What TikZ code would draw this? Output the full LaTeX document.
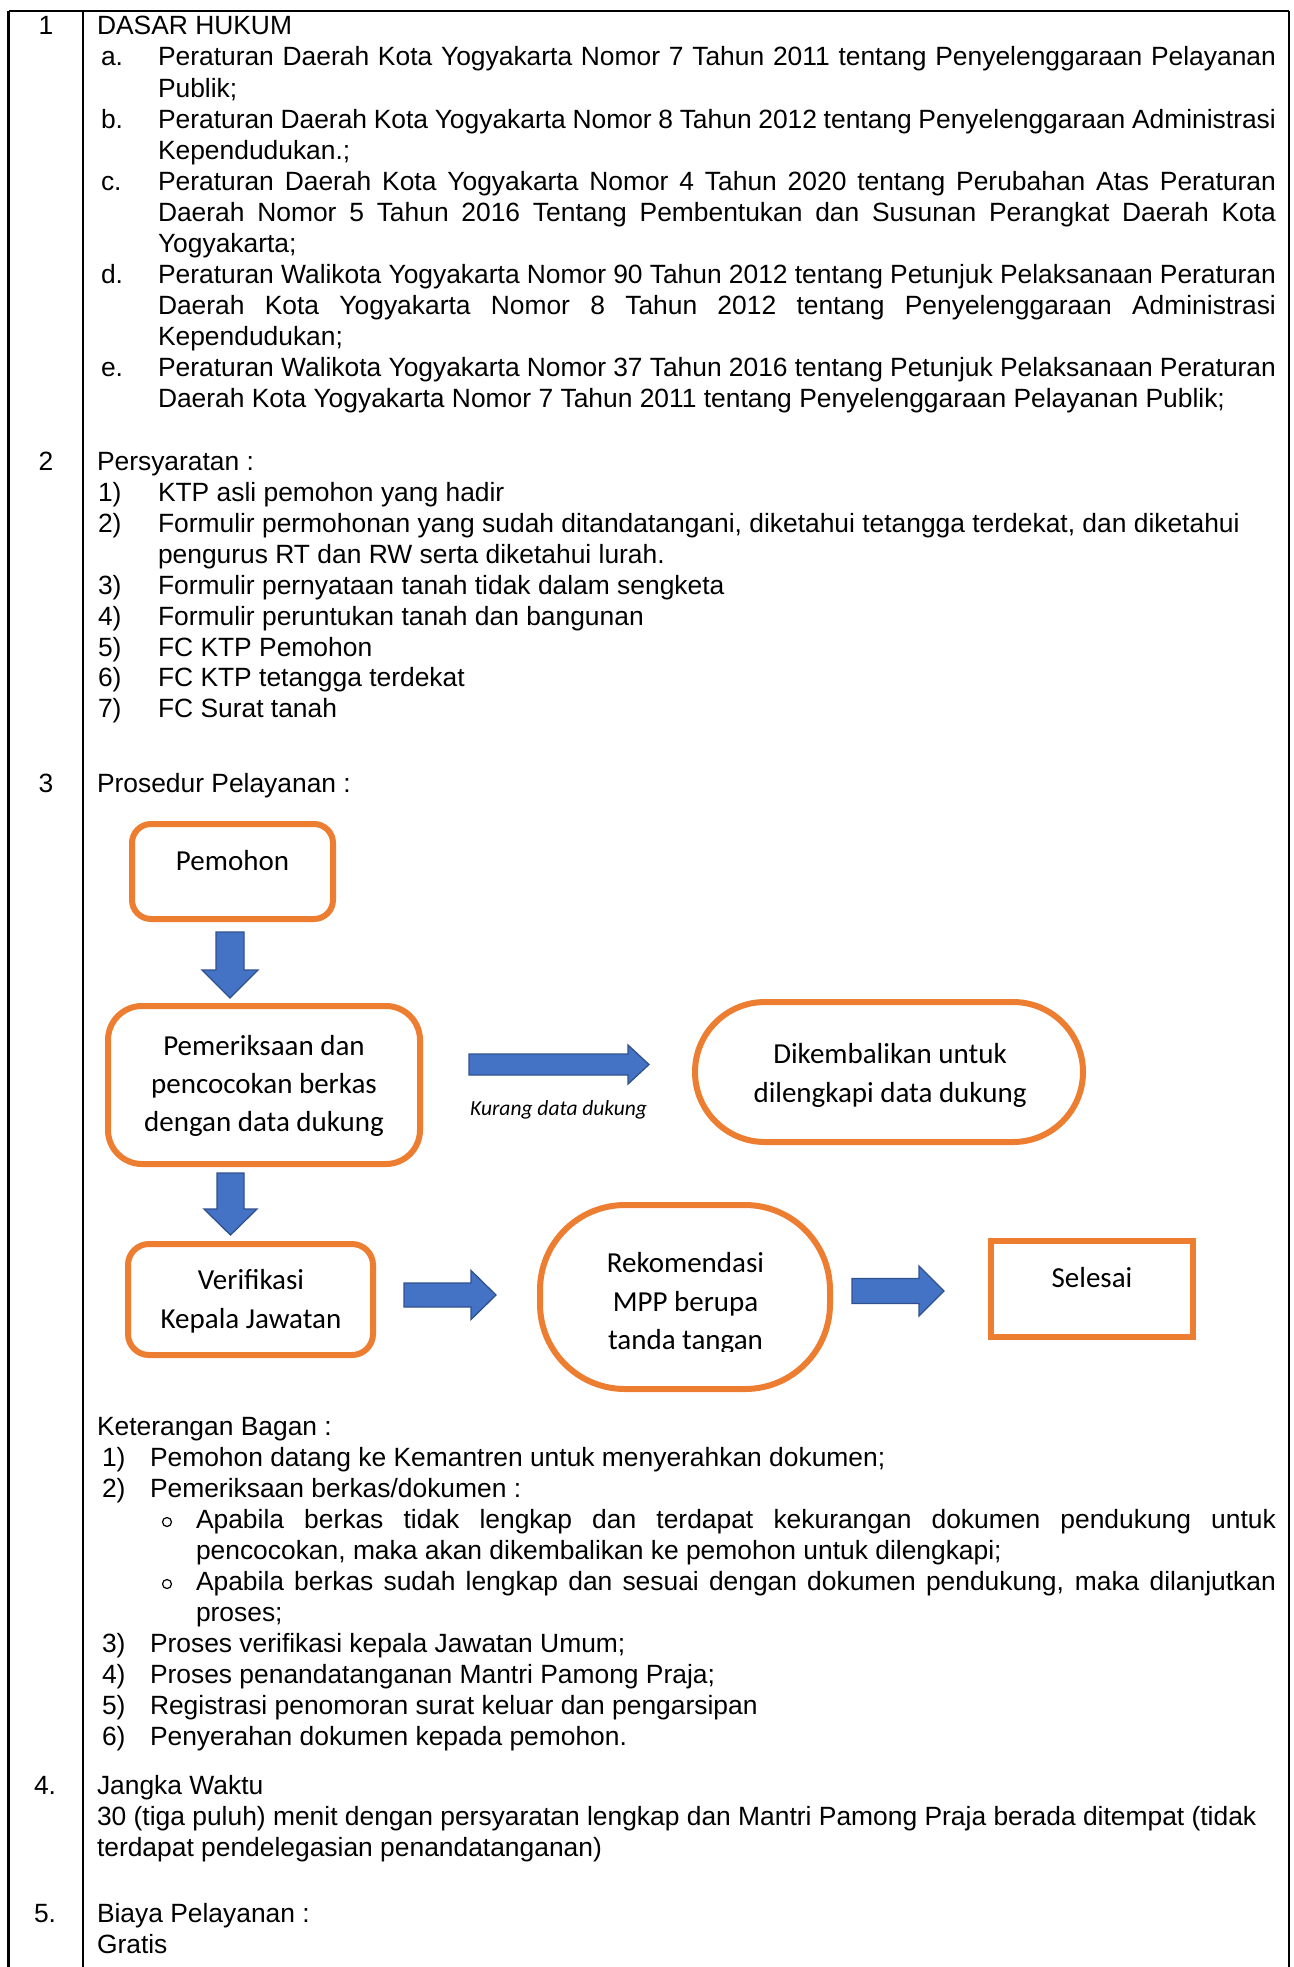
\documentclass[tikz,border=0pt]{standalone}
\usepackage{fontspec}
\setmainfont{Liberation Sans}
\newfontfamily\calfont{Carlito}
\definecolor{orng}{HTML}{ED7D31}
\definecolor{bluef}{HTML}{4472C4}
\definecolor{blued}{HTML}{2F528F}
\newcommand{\bodyf}{\fontsize{26.4pt}{31pt}\selectfont}
\newcommand{\flowf}{\calfont\fontsize{29pt}{39pt}\selectfont}
\newcommand{\labf}{\calfont\itshape\fontsize{21.5pt}{26pt}\selectfont}
\newcommand{\jline}[2]{\makebox[#1][s]{#2}}
% horizontal block arrow: x0, x1(tip), yc, shaft half, head half, head length
\newcommand{\harrow}[6]{\draw[barrow] ({#1},{#3-#4}) -- ({#2-#6},{#3-#4}) -- ({#2-#6},{#3-#5}) -- ({#2},{#3}) -- ({#2-#6},{#3+#5}) -- ({#2-#6},{#3+#4}) -- ({#1},{#3+#4}) -- cycle;}
% vertical block arrow: xc, y0, y1(tip), shaft half, head half, head length
\newcommand{\varrow}[6]{\draw[barrow] ({#1-#4},{#2}) -- ({#1-#4},{#3-#6}) -- ({#1-#5},{#3-#6}) -- ({#1},{#3}) -- ({#1+#5},{#3-#6}) -- ({#1+#4},{#3-#6}) -- ({#1+#4},{#2}) -- cycle;}
\begin{document}
\begin{tikzpicture}[x=1pt,y=-1pt,
  txt/.style={anchor=base west,inner sep=0pt,outer sep=0pt,font=\bodyf},
  num/.style={anchor=base,inner sep=0pt,font=\bodyf},
  obox/.style={draw=orng,line width=6pt,inner sep=0pt},
  ftxt/.style={anchor=base,inner sep=0pt,font=\flowf},
  barrow/.style={fill=bluef,draw=blued,line width=1.3pt,line join=miter},
  tbl/.style={line width=2.5pt,black},
  bul/.style={circle,draw,line width=1.2pt,inner sep=0pt,minimum size=9pt}]
\useasboundingbox (0,0) rectangle (1293,1967);
% table lines
\coordinate (tl) at (8.5,11);
\coordinate (tc) at (83,11);
\coordinate (tr) at (1289,11);
\coordinate (bl) at (8.5,1967);
\coordinate (bc) at (83,1967);
\coordinate (br) at (1289,1967);
\draw[tbl] (tl) -- (tr);
\draw[tbl] (tl) -- (bl);
\draw[tbl] (tc) -- (bc);
\draw[tbl] (tr) -- (br);

% ---------- section 1
\node[num] (n1) at (46,35) {1};
\node[txt] (h1) at (97,35) {DASAR HUKUM};
\node[txt] (la) at (101,66) {a.};
\node[txt] (la1) at (158,66) {\jline{1118pt}{Peraturan Daerah Kota Yogyakarta Nomor 7 Tahun 2011 tentang Penyelenggaraan Pelayanan}};
\node[txt] (la2) at (158,97) {Publik;};
\node[txt] (lb) at (101,128) {b.};
\node[txt] (lb1) at (158,128) {\jline{1118pt}{Peraturan Daerah Kota Yogyakarta Nomor 8 Tahun 2012 tentang Penyelenggaraan Administrasi}};
\node[txt] (lb2) at (158,159) {Kependudukan.;};
\node[txt] (lc) at (101,190) {c.};
\node[txt] (lc1) at (158,190) {\jline{1118pt}{Peraturan Daerah Kota Yogyakarta Nomor 4 Tahun 2020 tentang Perubahan Atas Peraturan}};
\node[txt] (lc2) at (158,221) {\jline{1118pt}{Daerah Nomor 5 Tahun 2016 Tentang Pembentukan dan Susunan Perangkat Daerah Kota}};
\node[txt] (lc3) at (158,252) {Yogyakarta;};
\node[txt] (ld) at (101,283) {d.};
\node[txt] (ld1) at (158,283) {\jline{1118pt}{Peraturan Walikota Yogyakarta Nomor 90 Tahun 2012 tentang Petunjuk Pelaksanaan Peraturan}};
\node[txt] (ld2) at (158,314) {\jline{1118pt}{Daerah Kota Yogyakarta Nomor 8 Tahun 2012 tentang Penyelenggaraan Administrasi}};
\node[txt] (ld3) at (158,345) {Kependudukan;};
\node[txt] (le) at (101,376) {e.};
\node[txt] (le1) at (158,376) {\jline{1118pt}{Peraturan Walikota Yogyakarta Nomor 37 Tahun 2016 tentang Petunjuk Pelaksanaan Peraturan}};
\node[txt] (le2) at (158,407) {Daerah Kota Yogyakarta Nomor 7 Tahun 2011 tentang Penyelenggaraan Pelayanan Publik;};

% ---------- section 2
\node[num] (n2) at (46,470) {2};
\node[txt] (h2) at (97,470) {Persyaratan :};
\node[txt] (p1n) at (98,501) {1)};
\node[txt] (p1) at (158,501) {KTP asli pemohon yang hadir};
\node[txt] (p2n) at (98,532) {2)};
\node[txt] (p2) at (158,532) {Formulir permohonan yang sudah ditandatangani, diketahui tetangga terdekat, dan diketahui};
\node[txt] (p2b) at (158,563) {pengurus RT dan RW serta diketahui lurah.};
\node[txt] (p3n) at (98,594) {3)};
\node[txt] (p3) at (158,594) {Formulir pernyataan tanah tidak dalam sengketa};
\node[txt] (p4n) at (98,625) {4)};
\node[txt] (p4) at (158,625) {Formulir peruntukan tanah dan bangunan};
\node[txt] (p5n) at (98,656) {5)};
\node[txt] (p5) at (158,656) {FC KTP Pemohon};
\node[txt] (p6n) at (98,686) {6)};
\node[txt] (p6) at (158,686) {FC KTP tetangga terdekat};
\node[txt] (p7n) at (98,717) {7)};
\node[txt] (p7) at (158,717) {FC Surat tanah};

% ---------- section 3
\node[num] (n3) at (46,792) {3};
\node[txt] (h3) at (97,792) {Prosedur Pelayanan :};

% flowchart shapes
\node[obox,rounded corners=19pt,minimum width=201pt,minimum height=95pt] (pemohon) at (232.5,871.5) {};
\node[obox,rounded corners=34pt,minimum width=312pt,minimum height=158pt] (periksa) at (264,1085) {};
\node[obox,rounded corners=21pt,minimum width=245pt,minimum height=111pt] (verif) at (250.5,1299.5) {};
\node[obox,rounded corners=70pt,minimum width=388pt,minimum height=140pt] (kembali) at (889,1072) {};
\node[obox,rounded corners=85pt,minimum width=290pt,minimum height=184pt] (rekom) at (685,1297) {};
\node[obox,minimum width=202pt,minimum height=96pt,line join=miter] (selesai) at (1092,1289) {};

% block arrows
\varrow{230}{932}{998}{14}{28}{28}
\varrow{230.5}{1173}{1235}{13.5}{26.5}{26}
\harrow{469}{649}{1064.5}{10.5}{19.5}{21}
\harrow{404}{496}{1295}{12}{24.5}{25}
\harrow{852}{944}{1291}{12.5}{25}{25}

% flowchart texts
\node[ftxt] (tpem) at (232.5,870) {Pemohon};
\node[ftxt] (tper1) at (264,1055) {Pemeriksaan dan};
\node[ftxt] (tper2) at (264,1093) {pencocokan berkas};
\node[ftxt] (tper3) at (264,1131) {dengan data dukung};
\node[ftxt] (tver1) at (251,1289) {Verifikasi};
\node[ftxt] (tver2) at (251,1328) {Kepala Jawatan};
\node[ftxt] (tkem1) at (890,1063) {Dikembalikan untuk};
\node[ftxt] (tkem2) at (890,1102) {dilengkapi data dukung};
\node[anchor=base,inner sep=0pt,font=\labf] (kurang) at (558.5,1115) {Kurang data dukung};
\begin{scope}
\clip (540,1205) rectangle (830,1351);
\node[ftxt] (trek1) at (685.5,1272) {Rekomendasi};
\node[ftxt] (trek2) at (685.5,1311) {MPP berupa};
\node[ftxt] (trek3) at (685.5,1349.5) {tanda tangan};
\end{scope}
\node[ftxt] (tsel) at (1092,1287) {Selesai};

% keterangan
\node[txt] (k0) at (97,1435) {Keterangan Bagan :};
\node[txt] (k1n) at (102,1466) {1)};
\node[txt] (k1) at (150,1466) {Pemohon datang ke Kemantren untuk menyerahkan dokumen;};
\node[txt] (k2n) at (102,1497) {2)};
\node[txt] (k2) at (150,1497) {Pemeriksaan berkas/dokumen :};
\node[bul] (kb1) at (167,1522) {};
\node[txt] (k2a1) at (196,1528) {\jline{1080pt}{Apabila berkas tidak lengkap dan terdapat kekurangan dokumen pendukung untuk}};
\node[txt] (k2a2) at (196,1559) {pencocokan, maka akan dikembalikan ke pemohon untuk dilengkapi;};
\node[bul] (kb2) at (167,1584) {};
\node[txt] (k2b1) at (196,1590) {\jline{1080pt}{Apabila berkas sudah lengkap dan sesuai dengan dokumen pendukung, maka dilanjutkan}};
\node[txt] (k2b2) at (196,1621) {proses;};
\node[txt] (k3n) at (102,1652) {3)};
\node[txt] (k3) at (150,1652) {Proses verifikasi kepala Jawatan Umum;};
\node[txt] (k4n) at (102,1683) {4)};
\node[txt] (k4) at (150,1683) {Proses penandatanganan Mantri Pamong Praja;};
\node[txt] (k5n) at (102,1714) {5)};
\node[txt] (k5) at (150,1714) {Registrasi penomoran surat keluar dan pengarsipan};
\node[txt] (k6n) at (102,1745) {6)};
\node[txt] (k6) at (150,1745) {Penyerahan dokumen kepada pemohon.};

% ---------- section 4
\node[txt] (n4) at (34,1794) {4.};
\node[txt] (h4) at (97,1794) {Jangka Waktu};
\node[txt] (j1) at (97,1825) {30 (tiga puluh) menit dengan persyaratan lengkap dan Mantri Pamong Praja berada ditempat (tidak};
\node[txt] (j2) at (97,1856) {terdapat pendelegasian penandatanganan)};

% ---------- section 5
\node[txt] (n5) at (34,1922) {5.};
\node[txt] (h5) at (97,1922) {Biaya Pelayanan :};
\node[txt] (g1) at (97,1953) {Gratis};
\end{tikzpicture}
\end{document}
